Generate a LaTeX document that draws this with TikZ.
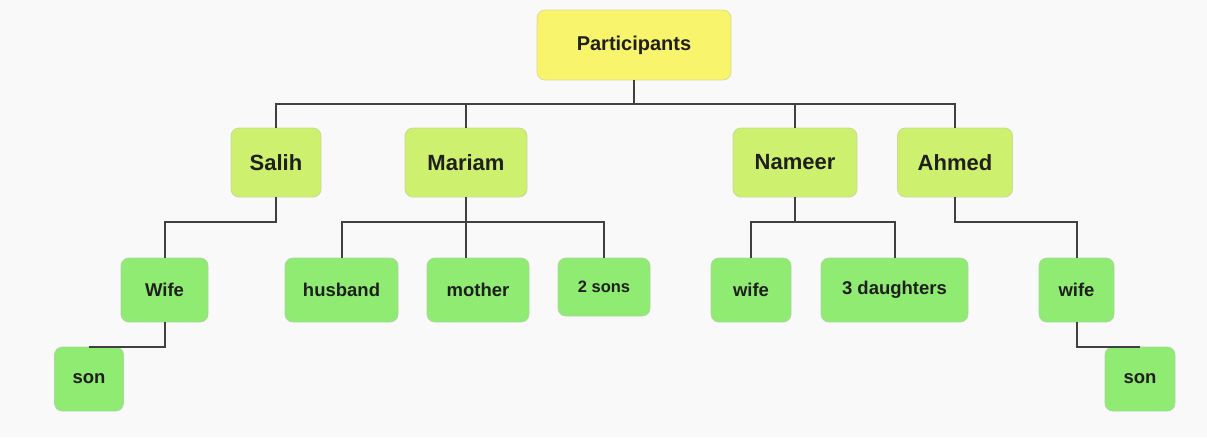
\documentclass[tikz,border=0pt]{standalone}
\usepackage{fontspec}
\setmainfont{Liberation Sans}
\begin{document}
\begin{tikzpicture}[x=1pt,y=-1pt,
  box/.style={draw=#1!80!black!60, line width=0.8pt, rounded corners=8pt, inner sep=0pt, text=black!88, fill=#1},
  lvltwo/.style={box=midc, minimum height=69pt, font=\bfseries\fontsize{22}{26}\selectfont},
  lvlthree/.style={box=lowc, minimum height=64pt, font=\bfseries\fontsize{18.5}{22}\selectfont},
  conn/.style={draw=black!75, line width=2pt}]
\definecolor{topc}{HTML}{F8F46C}
\definecolor{midc}{HTML}{CDF06E}
\definecolor{lowc}{HTML}{8FEB72}
\fill[white!97.5!black] (0,0) rectangle (1207,437);
\useasboundingbox (0,0) rectangle (1207,437);
% level 1
\node[box=topc, minimum width=194pt, minimum height=70pt, font=\bfseries\fontsize{20}{24}\selectfont] (P) at (634,45) {Participants};
% level 2
\node[lvltwo, minimum width=90pt] (salih) at (276,162.5) {Salih};
\node[lvltwo, minimum width=122pt] (mariam) at (466,162.5) {Mariam};
\node[lvltwo, minimum width=124pt] (nameer) at (795,162.5) {Nameer};
\node[lvltwo, minimum width=115pt] (ahmed) at (955,162.5) {Ahmed};
% level 3
\node[lvlthree, minimum width=87pt] (wife1) at (164.5,290) {Wife};
\node[lvlthree, minimum width=113pt] (husband) at (341.5,290) {husband};
\node[lvlthree, minimum width=102pt] (mother) at (478,290) {mother};
\node[lvlthree, minimum width=92pt, minimum height=58pt, font=\bfseries\fontsize{16.5}{20}\selectfont] (sons) at (604,287) {2 sons};
\node[lvlthree, minimum width=80pt] (wife2) at (751,290) {wife};
\node[lvlthree, minimum width=147pt] (daughters) at (894.5,290) {3 daughters};
\node[lvlthree, minimum width=75pt] (wife3) at (1076.5,290) {wife};
\node[lvlthree, minimum width=69pt] (son1) at (89,379) {son};
\node[lvlthree, minimum width=70pt] (son2) at (1140,379) {son};
% connectors
\coordinate (bus) at (0,104);
\draw[conn] (P.south) -- (P.south |- bus);
\draw[conn] (salih.north) |- (ahmed.north |- bus) -- (ahmed.north);
\draw[conn] (mariam.north) -- (mariam.north |- bus);
\draw[conn] (nameer.north) -- (nameer.north |- bus);
\coordinate (bus2) at (0,222);
\draw[conn] (salih.south) |- (wife1.north |- bus2) -- (wife1.north);
\draw[conn] (mariam.south) -- (mariam.south |- mother.north);
\draw[conn] (husband.north) |- (sons.north |- bus2) -- (sons.north);
\draw[conn] (nameer.south) -- (nameer.south |- bus2);
\draw[conn] (wife2.north) |- (daughters.north |- bus2) -- (daughters.north);
\draw[conn] (ahmed.south) |- (wife3.north |- bus2) -- (wife3.north);
\draw[conn] (wife1.south) |- (son1.north);
\draw[conn] (wife3.south) |- (son2.north);
\end{tikzpicture}
\end{document}
